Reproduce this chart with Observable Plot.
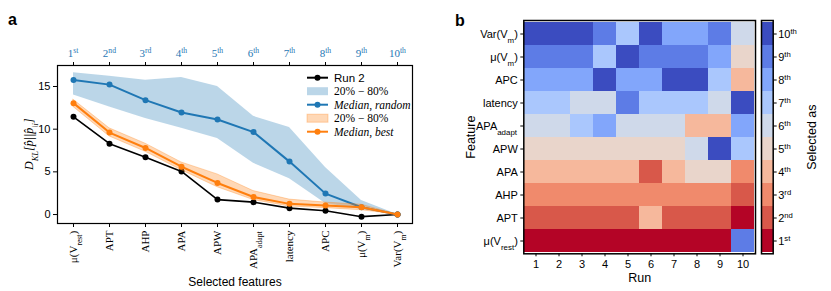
<!DOCTYPE html>
<html><head><meta charset="utf-8">
<script src="https://cdn.jsdelivr.net/npm/d3@7"></script>
<script src="https://cdn.jsdelivr.net/npm/@observablehq/plot@0.6"></script>
<style>
body{margin:0;background:#fff;}
#root{position:relative;width:831px;height:291px;overflow:hidden;font-family:"Liberation Sans",Arial,sans-serif;}
.panel{position:absolute;top:0;}
.plabel{position:absolute;font-weight:bold;font-size:16px;font-family:"Liberation Sans",Arial,sans-serif;}
</style></head><body>
<div id="root">
 <div id="pa" class="panel" style="left:0px"></div>
 <div id="pb" class="panel" style="left:420px"></div>
 <div id="pc" class="panel" style="left:740px"></div>
 <div class="plabel" style="left:8px;top:11px">a</div>
 <div class="plabel" style="left:455px;top:12px">b</div>
</div>
<script>
// ---------- Panel a data ----------
const features = ["μ(V_{rest})","APT","AHP","APA","APW","APA_{adapt}","latency","APC","μ(V_{m})","Var(V_{m})"];
const rankLabels = ["1^{st}","2^{nd}","3^{rd}","4^{th}","5^{th}","6^{th}","7^{th}","8^{th}","9^{th}","10^{th}"];
const run2 = [11.45, 8.3, 6.72, 5.05, 1.75, 1.45, 0.75, 0.45, -0.25, 0];
const bestMedian = [13.05, 9.6, 7.8, 5.6, 3.7, 2.05, 1.25, 1.05, 0.85, 0];
const bestLow = [12.6, 9.15, 7.35, 5.2, 3.2, 1.7, 0.95, 0.75, 0.5, 0];
const bestHigh = [13.45, 10.1, 8.3, 6.1, 4.7, 2.75, 1.75, 1.4, 1.15, 0];
const randomMedian = [15.75, 15.22, 13.4, 11.96, 11.14, 9.66, 6.2, 2.45, 0.85, 0];
const randomLow = [14.0, 12.6, 11.25, 10.1, 8.9, 6.0, 4.2, 1.3, 0.6, 0];
const randomHigh = [16.6, 16.2, 15.74, 16.05, 15.0, 11.5, 10.2, 5.5, 1.65, 0];
const yTicks = [0, 5, 10, 15];

// ---------- Panel b data ----------
const runs = [1,2,3,4,5,6,7,8,9,10];
const heatFeatures = ["Var(V_{m})","μ(V_{m})","APC","latency","APA_{adapt}","APW","APA","AHP","APT","μ(V_{rest})"];
const rankVarVm   = [10,10,10,9,7,10,8,8,9,6];
const rankMuVm    = [9,9,9,7,10,9,9,9,8,5];
const rankAPC     = [8,8,8,10,8,8,10,10,7,4];
const rankLatency = [7,7,6,6,9,7,7,7,6,10];
const rankAPAadapt= [6,6,7,8,6,6,6,4,4,8];
const rankAPW     = [5,5,5,5,5,5,5,6,10,7];
const rankAPA     = [4,4,4,4,4,2,4,5,5,3];
const rankAHP     = [3,3,3,3,3,3,3,3,3,2];
const rankAPT     = [2,2,2,2,2,4,2,2,2,1];
const rankMuVrest = [1,1,1,1,1,1,1,1,1,9];
const ranks = [1,2,3,4,5,6,7,8,9,10];

// styling
const palette = ["#b40426","#d8584a","#f08a6c","#f6b89c","#e9d5cb","#cfd9ea","#aac7fd","#82a6fb","#5d7ce6","#3b4cc0"];
const BLUE = "#1f77b4", ORANGE = "#ff7f0e";
const SERIF = "Liberation Serif, DejaVu Serif, serif";
const SANS = "Liberation Sans, Arial, sans-serif";

function rich(root, scale) {
  d3.select(root).selectAll("text").each(function(){
    const s = this.textContent;
    if (!/[_^]\{/.test(s)) return;
    const anchor = getComputedStyle(this).textAnchor;
    const sel = d3.select(this);
    sel.text(null);
    const re = /([_^])\{([^}]*)\}|([^_^]+)/g;
    let m;
    while ((m = re.exec(s)) !== null) {
      if (m[3] !== undefined) sel.append("tspan").text(m[3]);
      else sel.append("tspan").attr("font-size", Math.round((scale||0.7)*100)+"%")
        .attr("baseline-shift", m[1] === "_" ? "sub" : "super").text(m[2]);
    }
    // re-anchor explicitly using measured extents
    const x0 = +(this.getAttribute("x") || 0);
    sel.attr("text-anchor", "start").attr("x", x0);
    const bb = this.getBBox();
    if (anchor === "end") sel.attr("x", x0 + (x0 - (bb.x + bb.width)));
    else if (anchor === "middle") sel.attr("x", x0 + (x0 - (bb.x + bb.width / 2)));
  });
}

// ---------- Panel a ----------
const aData = features.map((f,i)=>({f, run2: run2[i], bm: bestMedian[i], bl: bestLow[i], bh: bestHigh[i], rm: randomMedian[i], rl: randomLow[i], rh: randomHigh[i]}));
const chartA = Plot.plot({
  width: 420, height: 291, marginLeft: 57, marginRight: 8, marginTop: 65, marginBottom: 68,
  style: {fontFamily: SANS, fontSize: "11px", background: "transparent", overflow: "visible"},
  x: {type: "point", domain: features, padding: 0.306, label: null},
  y: {domain: [-1.05, 17.46], label: null},
  marks: [
    Plot.line(aData, {x: "f", y: "run2", stroke: "black", strokeWidth: 1.6}),
    Plot.dot(aData, {x: "f", y: "run2", fill: "black", r: 3}),
    Plot.areaY(aData, {x: "f", y1: "rl", y2: "rh", fill: BLUE, fillOpacity: 0.3}),
    Plot.line(aData, {x: "f", y: "rm", stroke: BLUE, strokeWidth: 2}),
    Plot.dot(aData, {x: "f", y: "rm", fill: BLUE, r: 3}),
    Plot.areaY(aData, {x: "f", y1: "bl", y2: "bh", fill: ORANGE, fillOpacity: 0.3, stroke: ORANGE, strokeOpacity: 0.3}),
    Plot.line(aData, {x: "f", y: "bm", stroke: ORANGE, strokeWidth: 2}),
    Plot.dot(aData, {x: "f", y: "bm", fill: ORANGE, r: 3}),
    Plot.frame({stroke: "black", strokeWidth: 1.2}),
    Plot.axisY({ticks: yTicks, tickSize: 4, tickPadding: 3, fontSize: 11, label: "D_{KL}[p̂||p̂_{\\i}]", labelAnchor: "center", labelArrow: "none", labelOffset: 33}),
    Plot.axisX({anchor: "bottom", tickSize: 4, tickPadding: 3, tickRotate: -90, fontFamily: SERIF, fontSize: 11, label: "Selected features", labelAnchor: "center", labelArrow: "none", labelOffset: 62}),
    Plot.axisX({anchor: "top", tickSize: 4, tickPadding: 5, fill: BLUE, fontFamily: SERIF, fontSize: 11, tickFormat: d => rankLabels[features.indexOf(d)], label: null})
  ]
});
document.getElementById("pa").appendChild(chartA);
const svgA = d3.select(chartA);
svgA.selectAll('[aria-label="y-axis label"] text').attr("font-family", SERIF).attr("font-style", "italic").attr("font-size", 12);
svgA.selectAll('[aria-label="x-axis label"] text').attr("font-family", SANS).attr("font-size", 12);
// legend
const legendItems = [
  {kind: "line", color: "black", label: "Run 2", font: SANS, style: "normal"},
  {kind: "band", color: BLUE, label: "20% − 80%", font: SERIF, style: "normal"},
  {kind: "line", color: BLUE, label: "Median, random", font: SERIF, style: "italic"},
  {kind: "band", color: ORANGE, label: "20% − 80%", font: SERIF, style: "normal"},
  {kind: "line", color: ORANGE, label: "Median, best", font: SERIF, style: "italic"}
];
const lg = svgA.append("g").attr("text-anchor", "start");
legendItems.forEach((it, i) => {
  const y = 77.7 + i * 13.5;
  if (it.kind === "line") {
    lg.append("line").attr("x1", 307).attr("x2", 328).attr("y1", y).attr("y2", y).attr("stroke", it.color).attr("stroke-width", 2);
    lg.append("circle").attr("cx", 317.5).attr("cy", y).attr("r", 3).attr("fill", it.color);
  } else {
    lg.append("rect").attr("x", 307).attr("y", y - 4).attr("width", 21).attr("height", 8).attr("fill", it.color).attr("fill-opacity", 0.3)
      .attr("stroke", it.color).attr("stroke-opacity", it.color === ORANGE ? 0.3 : 0);
  }
  lg.append("text").attr("x", 334).attr("y", y).attr("dy", "0.35em").attr("text-anchor", "start").attr("font-family", it.font).attr("font-style", it.style)
    .attr("font-size", 11.5).attr("fill", "black").text(it.label);
});
rich(chartA, 0.7);

// ---------- Panel b ----------
const rankRows = [rankVarVm, rankMuVm, rankAPC, rankLatency, rankAPAadapt, rankAPW, rankAPA, rankAHP, rankAPT, rankMuVrest];
const cells = [];
heatFeatures.forEach((f, i) => rankRows[i].forEach((r, j) => cells.push({f, run: runs[j], rank: r})));
const colorScale = {type: "ordinal", domain: ranks, range: palette};
const chartB = Plot.plot({
  width: 340, height: 291, marginLeft: 103.3, marginRight: 5, marginTop: 20, marginBottom: 37.7,
  style: {fontFamily: SANS, fontSize: "11px", background: "transparent", overflow: "visible"},
  x: {type: "band", domain: runs, padding: 0, label: null},
  y: {type: "band", domain: heatFeatures, padding: 0, label: null},
  color: colorScale,
  marks: [
    Plot.cell(cells, {x: "run", y: "f", fill: "rank", inset: 0, shapeRendering: "crispEdges"}),
    Plot.frame({stroke: "black", strokeWidth: 1.5}),
    Plot.axisX({tickSize: 3, tickPadding: 3, fontSize: 11, label: "Run", labelAnchor: "center", labelArrow: "none", labelOffset: 28}),
    Plot.axisY({tickSize: 3, tickPadding: 3, fontSize: 11, label: "Feature", labelAnchor: "center", labelArrow: "none", labelOffset: 58})
  ]
});
document.getElementById("pb").appendChild(chartB);
d3.select(chartB).selectAll('[aria-label$="axis label"] text').attr("font-size", 12.5);
rich(chartB, 0.72);

// ---------- Colorbar ----------
const ranksDesc = ranks.slice().reverse();
const chartC = Plot.plot({
  width: 91, height: 291, marginLeft: 21, marginRight: 58.3, marginTop: 20, marginBottom: 37.7,
  style: {fontFamily: SANS, fontSize: "11px", background: "transparent", overflow: "visible"},
  y: {type: "band", domain: ranksDesc, padding: 0, label: null},
  color: colorScale,
  marks: [
    Plot.cell(ranksDesc, {y: d => d, fill: d => d, inset: 0, shapeRendering: "crispEdges"}),
    Plot.frame({stroke: "black", strokeWidth: 1.5}),
    Plot.axisY({anchor: "right", tickSize: 3, tickPadding: 2, fontSize: 11, tickFormat: d => rankLabels[d - 1], label: "Selected as", labelAnchor: "center", labelArrow: "none", labelOffset: 43})
  ]
});
document.getElementById("pc").appendChild(chartC);
d3.select(chartC).selectAll('[aria-label$="axis label"] text').attr("font-size", 12.5);
rich(chartC, 0.7);
</script>
</body></html>
